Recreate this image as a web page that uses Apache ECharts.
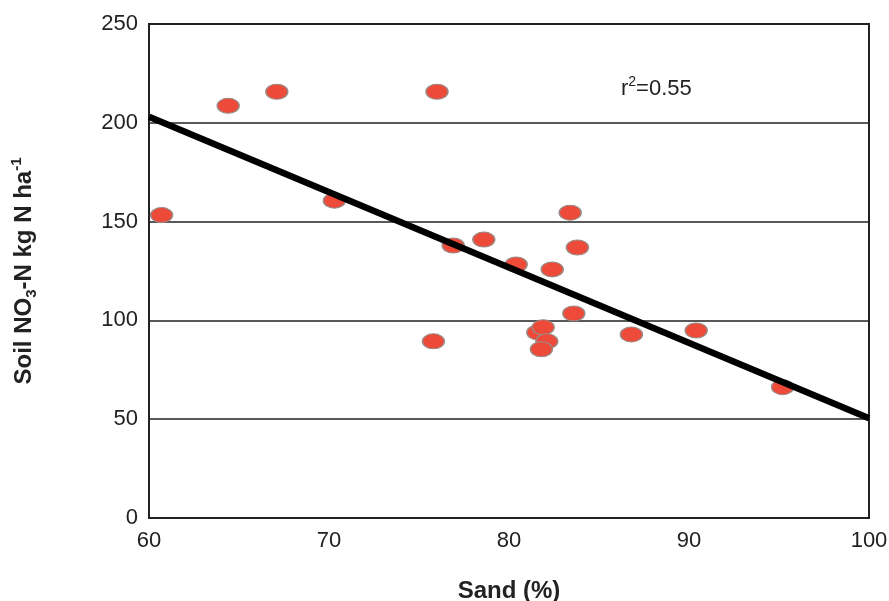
<!DOCTYPE html>
<html>
<head>
<meta charset="utf-8">
<script src="https://cdn.jsdelivr.net/npm/echarts@6/dist/echarts.min.js"></script>
<style>html,body{margin:0;padding:0;background:#fff}#c{width:889px;height:601px}</style>
</head>
<body>
<div id="c"></div>
<script>
var sand = [60.7, 64.4, 67.1, 76.0, 70.3, 83.4, 76.9, 78.6, 83.8, 80.4, 82.4, 83.6, 75.8, 81.6, 81.9, 82.1, 81.8, 86.8, 90.4, 95.2];
var nitrate = [153.3, 208.6, 215.7, 215.7, 160.6, 154.5, 137.9, 140.9, 136.9, 128.3, 125.8, 103.5, 89.4, 93.9, 96.5, 89.4, 85.4, 92.9, 94.9, 66.2];
var fitX = [60, 100];
var fitY = [203, 50.5];
var rSquared = '0.55';

var chart = echarts.init(document.getElementById('c'));
var pts = sand.map(function (x, i) { return [x, nitrate[i]]; });
var fit = fitX.map(function (x, i) { return [x, fitY[i]]; });
var font = 'Liberation Sans, Arial, sans-serif';
chart.setOption({
  animation: false,
  grid: { left: 149, right: 20, top: 24, bottom: 83, show: true, borderColor: '#222', borderWidth: 2, containLabel: false, outerBoundsMode: 'none' },
  xAxis: {
    type: 'value', min: 60, max: 100, interval: 10,
    axisLine: { show: true, lineStyle: { color: '#222', width: 2 } },
    axisTick: { show: false },
    splitLine: { show: false },
    axisLabel: { color: '#222', fontSize: 22, fontFamily: font, margin: 12 },
    name: 'Sand (%)', nameLocation: 'middle', nameGap: 61,
    nameTextStyle: { color: '#222', fontSize: 24, fontWeight: 'bold', fontFamily: font }
  },
  yAxis: {
    type: 'value', min: 0, max: 250, interval: 50,
    axisLine: { show: true, lineStyle: { color: '#222', width: 2 } },
    axisTick: { show: false },
    splitLine: { show: true, lineStyle: { color: '#222', width: 1.5 } },
    axisLabel: { color: '#222', fontSize: 22, fontFamily: font, margin: 11 },
    name: '{a|Soil NO}{s|3}{a|-N kg N ha}{p|-1}',
    nameLocation: 'middle', nameGap: 110, nameRotate: 90,
    nameTextStyle: {
      color: '#222', fontFamily: font,
      rich: {
        a: { fontSize: 24, lineHeight: 30, fontWeight: 'bold', fontFamily: font, color: '#222' },
        s: { fontSize: 15, lineHeight: 15, fontWeight: 'bold', fontFamily: font, color: '#222', verticalAlign: 'bottom' },
        p: { fontSize: 15, lineHeight: 15, fontWeight: 'bold', fontFamily: font, color: '#222', verticalAlign: 'top' }
      }
    }
  },
  series: [
    {
      type: 'scatter', data: pts, symbol: 'circle', symbolSize: [22, 15], z: 2,
      itemStyle: { color: '#ee4a3a', borderColor: '#9a8a86', borderWidth: 1.2, opacity: 1 }
    },
    {
      type: 'line', data: fit, symbol: 'none', z: 3,
      lineStyle: { color: '#000', width: 6.5 }
    }
  ],
  graphic: [{
    type: 'text', left: 621, top: 75,
    style: {
      text: '{a|r}{p|2}{a|=' + rSquared + '}',
      rich: {
        a: { fontSize: 22, lineHeight: 27, fontFamily: font, fill: '#222' },
        p: { fontSize: 14, lineHeight: 14, fontFamily: font, fill: '#222', verticalAlign: 'top' }
      }
    }
  }]
});
</script>
</body>
</html>
